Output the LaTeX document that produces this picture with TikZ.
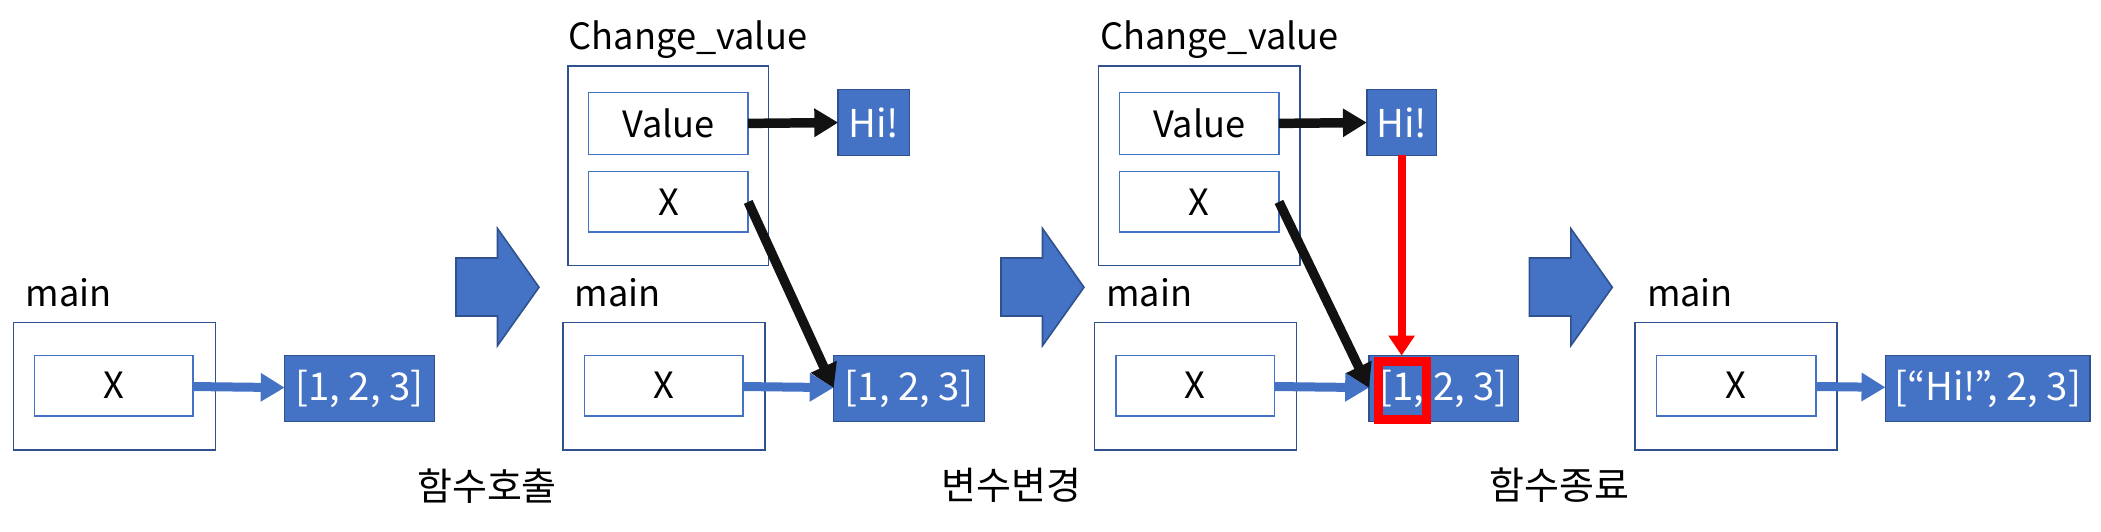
\documentclass[tikz,border=0pt]{standalone}
\usepackage{fontspec}
\setmainfont{Noto Sans CJK KR}
\usetikzlibrary{arrows.meta}
\definecolor{objblue}{HTML}{4472C4}
\definecolor{frameblue}{HTML}{2F528F}

\begin{document}
\begin{tikzpicture}[
  frame/.style={draw=frameblue, line width=0.45pt, inner sep=0pt, outer sep=0pt},
  var/.style={draw=objblue, fill=white, line width=0.45pt, inner sep=0pt, outer sep=0pt,
              minimum height=0.604cm, font=\fontsize{10.3}{12.4}\selectfont},
  obj/.style={draw=frameblue, fill=objblue, line width=0.45pt, inner sep=0pt, outer sep=0pt,
              minimum height=0.658cm, text=white, font=\fontsize{10.9}{13}\selectfont},
  title/.style={anchor=base west, inner sep=0pt, font=\fontsize{10.3}{12.4}\selectfont},
  caption/.style={inner sep=0pt, font=\fontsize{10.8}{13}\selectfont},
  ref/.style={line width=2.56pt, objblue, -{Triangle[width=7.7pt, length=6.8pt]}},
  link/.style={line width=2.7pt, black!93, -{Triangle[width=7.7pt, length=6.8pt]}},
  upd/.style={line width=2.3pt, red, -{Triangle[width=7.2pt, length=5.7pt]}},
  bigarrow/.style={fill=objblue, draw=frameblue, line width=0.45pt},
]
  \useasboundingbox (0,0) rectangle (21.01,5.31);

  % Step 1: before the call
  \node[title] (lm1) at (0.25, 2.245) {main};
  \node[frame, minimum width=2.018cm, minimum height=1.275cm] (m1) at (1.145, 1.4475) {};
  \node[var, minimum width=1.586cm] (x1) at (1.139, 1.454) {X};
  \node[obj, minimum width=1.497cm] (v1) at (3.595, 1.425) {[1,\ 2,\ 3]};
  \draw[ref] (x1) -- (v1);

  % Step 2: Change_value is called
  \node[title] (lcv2) at (5.68, 4.819) {Change\_value};
  \node[frame, minimum width=2.007cm, minimum height=1.997cm] (cv2) at (6.683, 3.6515) {};
  \node[var, minimum width=1.596cm, minimum height=0.62cm] (val2) at (6.684, 4.076) {Value};
  \node[var, minimum width=1.596cm] (cx2) at (6.684, 3.291) {X};
  \node[obj, minimum width=0.711cm] (hi2) at (8.738, 4.0845) {Hi!};
  \node[title] (lm2) at (5.74, 2.245) {main};
  \node[frame, minimum width=2.021cm, minimum height=1.275cm] (m2) at (6.64, 1.4475) {};
  \node[var, minimum width=1.586cm] (x2) at (6.639, 1.454) {X};
  \node[obj, minimum width=1.507cm] (v2) at (9.09, 1.425) {[1,\ 2,\ 3]};
  \draw[link] (val2.east) -- (hi2.west);
  \draw[link] (cx2.east) -- (v2.west);
  \draw[ref] (x2) -- (v2);

  % Step 3: the first item is changed
  \node[title] (lcv3) at (10.996, 4.819) {Change\_value};
  \node[frame, minimum width=2.014cm, minimum height=1.997cm] (cv3) at (11.993, 3.6515) {};
  \node[var, minimum width=1.593cm, minimum height=0.62cm] (val3) at (11.993, 4.076) {Value};
  \node[var, minimum width=1.593cm] (cx3) at (11.993, 3.291) {X};
  \node[obj, minimum width=0.696cm] (hi3) at (14.016, 4.0845) {Hi!};
  \node[title] (lm3) at (11.057, 2.245) {main};
  \node[frame, minimum width=2.021cm, minimum height=1.275cm] (m3) at (11.954, 1.4475) {};
  \node[var, minimum width=1.586cm] (x3) at (11.95, 1.454) {X};
  \node[obj, minimum width=1.493cm] (v3) at (14.437, 1.425) {[1,\ 2,\ 3]};
  \node[draw=red, line width=2.56pt, inner sep=0pt, minimum width=0.475cm, minimum height=0.583cm] (hl) at (14.025, 1.4065) {};
  \draw[link] (val3.east) -- (hi3.west);
  \draw[link] (cx3.east) -- (v3.west);
  \draw[ref] (x3) -- (v3);
  \draw[upd] (hi3.south) -- (hi3.south |- v3.north);

  % Step 4: back in main
  \node[title] (lm4) at (16.463, 2.245) {main};
  \node[frame, minimum width=2.018cm, minimum height=1.275cm] (m4) at (17.361, 1.4475) {};
  \node[var, minimum width=1.594cm] (x4) at (17.363, 1.454) {X};
  \node[obj, minimum width=2.043cm] (v4) at (19.876, 1.425) {[“Hi!”,\ 2,\ 3]};
  \draw[ref] (x4) -- (v4);

  % Step arrows
  \foreach \ax in {4.56, 10.01, 15.293}
    \draw[bigarrow] (\ax, 2.73) -- ++(0.415, 0) -- ++(0, 0.295) -- (\ax+0.83, 2.437)
      -- (\ax+0.415, 1.853) -- ++(0, 0.297) -- (\ax, 2.15) -- cycle;

  \node[caption] (c1) at (4.87, 0.447) {함수호출};
  \node[caption] (c2) at (10.115, 0.46) {변수변경};
  \node[caption] (c3) at (15.594, 0.46) {함수종료};
\end{tikzpicture}
\end{document}
